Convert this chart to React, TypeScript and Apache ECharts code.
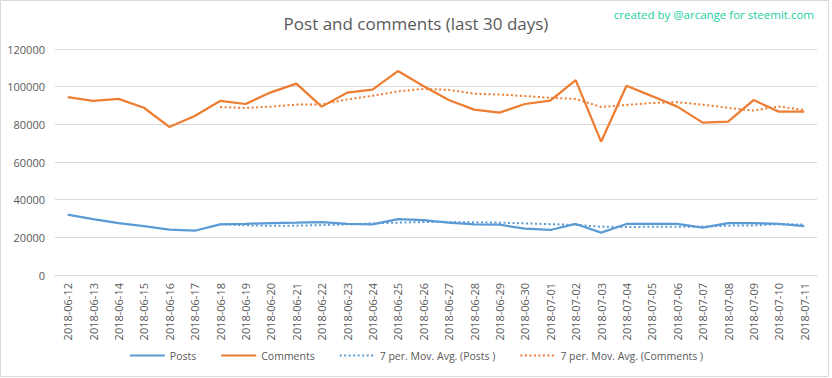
import React, { useEffect, useRef } from "react";
import * as echarts from "echarts";

const categories = [
  "2018-06-12", "2018-06-13", "2018-06-14", "2018-06-15", "2018-06-16", "2018-06-17",
  "2018-06-18", "2018-06-19", "2018-06-20", "2018-06-21", "2018-06-22", "2018-06-23",
  "2018-06-24", "2018-06-25", "2018-06-26", "2018-06-27", "2018-06-28", "2018-06-29",
  "2018-06-30", "2018-07-01", "2018-07-02", "2018-07-03", "2018-07-04", "2018-07-05",
  "2018-07-06", "2018-07-07", "2018-07-08", "2018-07-09", "2018-07-10", "2018-07-11",
];

const posts = [
  32000, 29700, 27600, 26000, 24100, 23500, 26900, 27200, 27600, 27800,
  28100, 27200, 26900, 29700, 29200, 27800, 26900, 26700, 24600, 23900,
  27100, 22500, 27100, 27100, 27100, 25100, 27600, 27600, 27200, 26000,
];

const comments = [
  94400, 92400, 93500, 88800, 78600, 84400, 92400, 90800, 97000, 101600,
  89400, 96800, 98400, 108300, 100400, 92900, 87800, 86200, 90800, 92600,
  103500, 70800, 100500, 95000, 89400, 80900, 81400, 92900, 86700, 86700,
];

const postsAvg = [
  null, null, null, null, null, null, 27100, 26400, 26100, 26200,
  26500, 26900, 27400, 27800, 28100, 28100, 28000, 27800, 27400, 27000,
  26600, 25600, 25500, 25600, 25600, 25700, 26200, 26300, 27000, 26800,
];

const commentsAvg = [
  null, null, null, null, null, null, 89200, 88700, 89400, 90500,
  90600, 93200, 95200, 97500, 98800, 98300, 96300, 95800, 95000, 94100,
  93500, 89200, 90300, 91300, 91800, 90400, 88800, 87300, 89500, 87600,
];

const yTicks = { min: 0, max: 120000, interval: 20000 };

const BLUE = "#5B9BD5";
const ORANGE = "#ED7D31";
const TEXT = "#595959";
const FONT = "'Open Sans', 'Noto Sans', sans-serif";

export default function App() {
  const ref = useRef<HTMLDivElement>(null);

  useEffect(() => {
    document.body.style.margin = "0";
    if (!ref.current) return;
    const chart = echarts.init(ref.current, undefined, { renderer: "svg" });
    chart.setOption({
      animation: false,
      backgroundColor: "#ffffff",
      textStyle: { fontFamily: FONT },
      title: {
        text: "Post and comments (last 30 days)",
        left: "center",
        top: 10,
        textStyle: { fontSize: 17, fontWeight: "normal", color: TEXT, fontFamily: FONT },
      },
      graphic: [
        {
          type: "rect",
          shape: { x: 0.5, y: 0.5, width: 828, height: 376 },
          style: { fill: "none", stroke: "#d9d9d9", lineWidth: 1 },
          silent: true,
        },
        {
          type: "text",
          right: 18,
          top: 8,
          style: {
            text: "created by @arcange for steemit.com",
            fill: "#22CFA2",
            fontSize: 11.5,
            fontFamily: FONT,
          },
        },
      ],
      grid: { left: 55, right: 15, top: 49, bottom: 103, containLabel: false },
      legend: {
        bottom: 12,
        left: "center",
        itemWidth: 35,
        itemHeight: 8,
        itemGap: 24,
        itemStyle: { opacity: 0, borderWidth: 0 },
        textStyle: { fontSize: 10.5, color: TEXT, fontFamily: FONT },
        data: [
          "Posts",
          "Comments",
          "7 per. Mov. Avg. (Posts )",
          "7 per. Mov. Avg. (Comments )",
        ],
      },
      xAxis: {
        type: "category",
        data: categories,
        boundaryGap: true,
        axisLine: { lineStyle: { color: "#d9d9d9" } },
        axisTick: { show: false },
        axisLabel: { rotate: 90, fontSize: 11, color: TEXT, margin: 8, interval: 0 },
      },
      yAxis: {
        type: "value",
        min: yTicks.min,
        max: yTicks.max,
        interval: yTicks.interval,
        axisLine: { show: false },
        axisTick: { show: false },
        axisLabel: { fontSize: 11, color: TEXT, margin: 10, formatter: (v: number) => String(v) },
        splitLine: { lineStyle: { color: "#d9d9d9" } },
      },
      series: [
        {
          name: "Posts",
          type: "line",
          data: posts,
          symbol: "none",
          lineStyle: { color: BLUE, width: 2.25 },
          itemStyle: { color: BLUE },
          z: 3,
        },
        {
          name: "Comments",
          type: "line",
          data: comments,
          symbol: "none",
          lineStyle: { color: ORANGE, width: 2.25 },
          itemStyle: { color: ORANGE },
          z: 3,
        },
        {
          name: "7 per. Mov. Avg. (Posts )",
          type: "line",
          data: postsAvg,
          symbol: "none",
          lineStyle: { color: BLUE, width: 2, type: [2, 2.5] },
          itemStyle: { color: BLUE },
          z: 2,
        },
        {
          name: "7 per. Mov. Avg. (Comments )",
          type: "line",
          data: commentsAvg,
          symbol: "none",
          lineStyle: { color: ORANGE, width: 2, type: [2, 2.5] },
          itemStyle: { color: ORANGE },
          z: 2,
        },
      ],
    });
    return () => chart.dispose();
  }, []);

  return <div ref={ref} style={{ width: 832, height: 378 }} />;
}
